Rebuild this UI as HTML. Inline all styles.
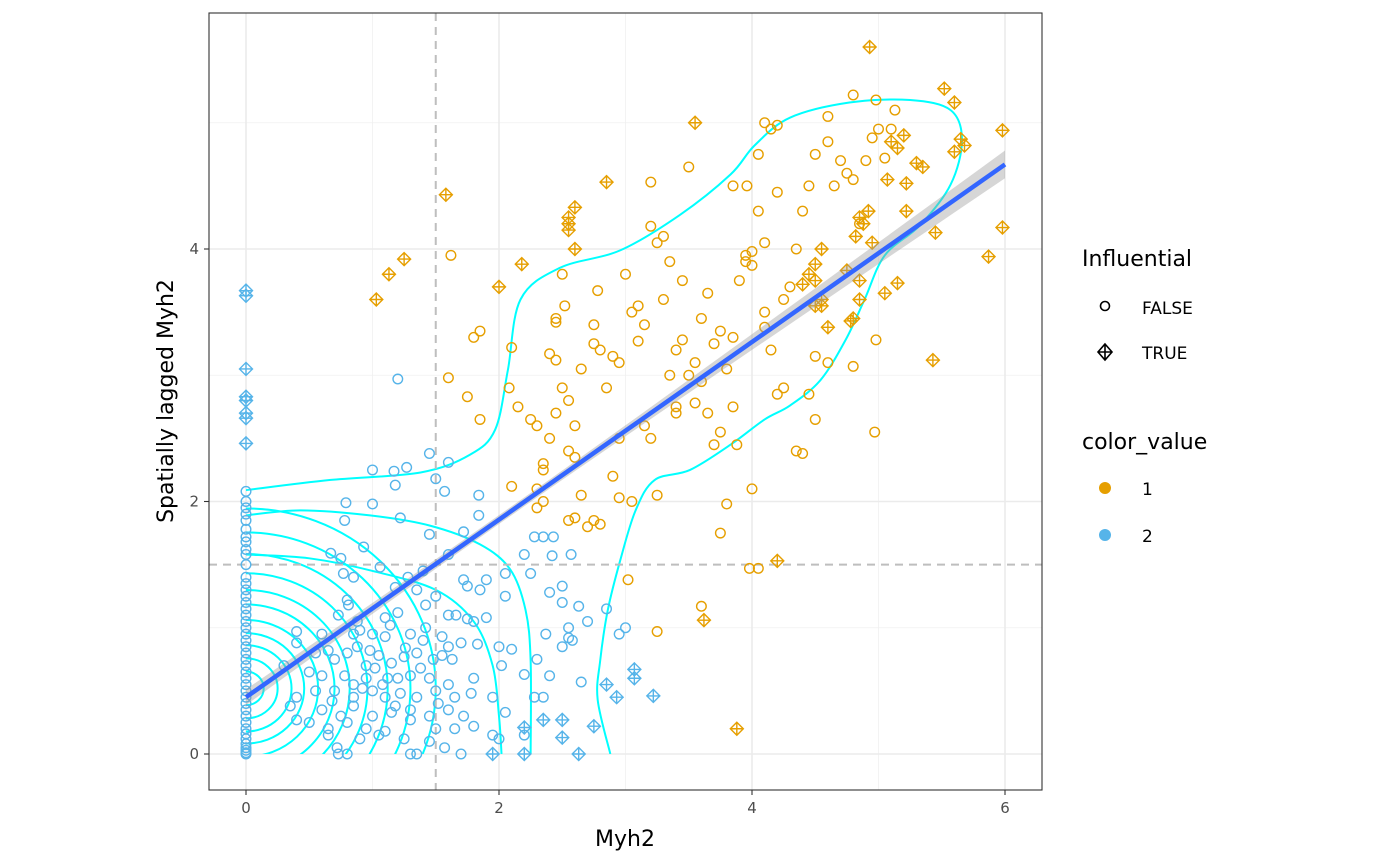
<!DOCTYPE html>
<html><head><meta charset="utf-8">
<style>
html,body{margin:0;padding:0;background:#fff;}
svg{display:block;font-family:"DejaVu Sans","Liberation Sans",sans-serif;}
</style></head>
<body>
<svg id="chart" width="1400" height="865" viewBox="0 0 1400 865" xmlns="http://www.w3.org/2000/svg">
<defs><clipPath id="panelClip"><rect x="209" y="13" width="833" height="777"/></clipPath>
<clipPath id="posClip"><rect x="246" y="13" width="796" height="741"/></clipPath></defs>
<rect x="209" y="13" width="833" height="777" fill="#fff"/>
<g id="grid"></g>
<g id="contours" clip-path="url(#posClip)"></g>
<g id="refs"></g>
<g id="points" clip-path="url(#panelClip)"></g>
<g id="fit"></g>
<rect x="209" y="13" width="833" height="777" fill="none" stroke="#333" stroke-width="1.1"/>
<g id="axes"></g>
<text x="625" y="846" font-size="22" text-anchor="middle" fill="#000">Myh2</text>
<text transform="translate(173,401) rotate(-90)" font-size="22" text-anchor="middle" fill="#000">Spatially lagged Myh2</text>
<g>
<text x="1082" y="266" font-size="22" fill="#000">Influential</text>
<circle cx="1105" cy="306" r="4.5" fill="none" stroke="#000" stroke-width="1.6"/>
<text x="1142" y="314" font-size="17" fill="#000">FALSE</text>
<g stroke="#000" stroke-width="1.6" fill="none"><path d="M1105,344 L1112,352 L1105,360 L1098,352 Z M1105,344 V360 M1098,352 H1112"/></g>
<text x="1142" y="359" font-size="17" fill="#000">TRUE</text>
<text x="1082" y="449" font-size="22" fill="#000">color_value</text>
<circle cx="1105" cy="488" r="6" fill="#E69F00"/>
<text x="1142" y="495" font-size="17" fill="#000">1</text>
<circle cx="1105" cy="535" r="6" fill="#56B4E9"/>
<text x="1142" y="542" font-size="17" fill="#000">2</text>
</g>
</svg>
<script>
const xTicks=[0,2,4,6];
const yTicks=[0,2,4];
const xMinor=[1,3,5];
const yMinor=[1,3,5];
const fitStart=[0,0.45];
const fitEnd=[6,4.67];
const vlineX=1.5;
const hlineY=1.5;
const blueZeroY=[0,0.01,0.03,0.05,0.08,0.12,0.16,0.2,0.25,0.3,0.35,0.4,0.45,0.5,0.55,0.6,0.65,0.7,0.75,0.8,0.85,0.9,0.95,1.0,1.05,1.1,1.15,1.2,1.25,1.3,1.35,1.4,1.5,1.58,1.62,1.68,1.72,1.78,1.85,1.9,1.95,2.0,2.08];
const blueZeroDiamondY=[3.67,3.63,3.05,2.83,2.8,2.7,2.66,2.46];
const blueCircles=[[1.2,2.97],[1.0,2.25],[1.17,2.24],[1.27,2.27],[1.45,2.38],[1.6,2.31],[1.18,2.13],[1.5,2.18],[1.57,2.08],[0.79,1.99],[1.0,1.98],[1.84,2.05],[0.78,1.85],[1.22,1.87],[1.84,1.89],[0.93,1.64],[1.45,1.74],[1.72,1.76],[2.28,1.72],[2.35,1.72],[2.43,1.72],[0.67,1.59],[0.75,1.55],[1.06,1.48],[1.6,1.58],[2.2,1.58],[2.42,1.57],[2.57,1.58],[0.77,1.43],[0.85,1.4],[1.28,1.4],[1.4,1.45],[1.72,1.38],[1.75,1.33],[1.9,1.38],[2.05,1.43],[2.25,1.43],[2.5,1.33],[0.8,1.22],[0.81,1.18],[1.18,1.32],[1.35,1.3],[1.5,1.25],[1.85,1.3],[2.05,1.25],[2.4,1.28],[2.5,1.2],[2.63,1.17],[2.85,1.15],[0.73,1.1],[1.1,1.08],[1.2,1.12],[1.42,1.18],[1.6,1.1],[1.66,1.1],[1.75,1.07],[1.8,1.05],[1.9,1.08],[2.55,1.0],[2.7,1.05],[3.0,1.0],[0.4,0.97],[0.6,0.95],[0.85,0.95],[0.9,0.98],[1.0,0.95],[1.1,0.93],[1.3,0.95],[1.4,0.9],[1.55,0.93],[1.6,0.85],[1.7,0.88],[1.83,0.87],[2.0,0.85],[2.1,0.83],[2.37,0.95],[2.55,0.92],[2.95,0.95],[0.3,0.7],[0.4,0.88],[0.55,0.8],[0.65,0.82],[0.7,0.75],[0.8,0.8],[0.88,0.85],[0.95,0.7],[1.05,0.78],[1.15,0.72],[1.25,0.77],[1.35,0.8],[1.48,0.75],[1.55,0.78],[1.63,0.75],[2.02,0.7],[2.3,0.75],[2.5,0.85],[2.58,0.9],[0.5,0.65],[0.6,0.62],[0.78,0.62],[0.85,0.55],[0.95,0.6],[1.08,0.55],[1.2,0.6],[1.3,0.62],[1.45,0.6],[1.6,0.55],[1.8,0.6],[2.2,0.63],[2.4,0.62],[2.65,0.57],[0.4,0.45],[0.55,0.5],[0.7,0.5],[0.85,0.45],[1.0,0.5],[1.1,0.45],[1.22,0.48],[1.35,0.45],[1.5,0.5],[1.65,0.45],[1.78,0.48],[1.95,0.45],[2.28,0.45],[2.35,0.45],[0.35,0.38],[0.6,0.35],[0.75,0.3],[0.85,0.38],[1.0,0.3],[1.15,0.33],[1.3,0.35],[1.45,0.3],[1.6,0.35],[1.72,0.3],[2.05,0.33],[0.4,0.27],[0.5,0.25],[0.65,0.2],[0.8,0.25],[0.95,0.2],[1.1,0.18],[1.3,0.27],[1.5,0.2],[1.65,0.2],[1.8,0.22],[1.95,0.15],[0.65,0.15],[0.9,0.12],[1.05,0.15],[1.25,0.12],[1.45,0.1],[1.7,0.0],[0.73,0.0],[0.8,0.0],[1.3,0.0],[1.35,0.0],[1.57,0.05],[2.0,0.12],[2.2,0.15],[0.72,0.05],[1.12,0.6],[1.02,0.68],[0.92,0.52],[1.38,0.68],[1.18,0.38],[0.68,0.42],[1.52,0.4],[1.26,0.84],[0.98,0.82],[1.42,1.0],[1.14,1.02],[0.88,1.05]];
const blueDiamonds=[[3.07,0.67],[3.07,0.6],[3.22,0.46],[2.85,0.55],[2.93,0.45],[2.2,0.21],[2.35,0.27],[2.5,0.27],[2.5,0.13],[2.75,0.22],[1.95,0.0],[2.2,0.0],[2.63,0.0]];
const orangeCircles=[[1.6,2.98],[1.75,2.83],[1.8,3.3],[1.85,3.35],[1.85,2.65],[2.1,3.22],[2.15,2.75],[2.08,2.9],[2.1,2.12],[2.25,2.65],[2.3,2.6],[2.35,2.3],[2.35,2.25],[2.3,1.95],[2.35,2.0],[2.4,3.17],[2.45,3.12],[2.45,3.42],[2.45,3.45],[2.5,3.8],[2.52,3.55],[2.5,2.9],[2.55,2.8],[2.6,2.6],[2.45,2.7],[2.55,2.4],[2.6,2.35],[2.65,2.05],[2.55,1.85],[2.6,1.87],[2.75,1.85],[2.8,1.82],[2.7,1.8],[2.65,3.05],[2.75,3.25],[2.8,3.2],[2.75,3.4],[2.78,3.67],[2.85,2.9],[2.9,3.15],[2.95,3.1],[2.9,2.2],[2.95,2.03],[3.0,3.8],[3.05,2.0],[3.1,3.55],[3.05,3.5],[3.1,3.27],[3.15,2.6],[3.2,2.5],[3.25,2.05],[3.2,4.18],[3.25,4.05],[3.3,4.1],[3.2,4.53],[3.35,3.0],[3.4,2.7],[3.4,2.75],[3.4,3.2],[3.45,3.28],[3.45,3.75],[3.5,3.0],[3.55,2.78],[3.55,3.1],[3.6,2.95],[3.5,4.65],[3.6,3.45],[3.65,3.65],[3.7,3.25],[3.65,2.7],[3.7,2.45],[3.75,2.55],[3.75,3.35],[3.8,3.05],[3.75,1.75],[3.8,1.98],[3.88,2.45],[3.85,3.3],[3.9,3.75],[3.95,3.95],[3.95,3.9],[4.0,3.87],[4.0,3.98],[3.96,4.5],[4.05,4.75],[4.05,4.3],[4.1,4.05],[4.1,3.5],[4.1,3.38],[4.15,3.2],[4.2,2.85],[4.25,2.9],[4.3,3.7],[4.35,2.4],[4.4,2.38],[4.45,2.85],[4.5,2.65],[4.4,4.3],[4.45,4.5],[4.5,4.75],[4.6,4.85],[4.65,4.5],[4.7,4.7],[4.75,4.6],[4.8,4.55],[4.8,5.22],[4.85,4.2],[4.9,4.7],[4.95,4.88],[5.0,4.95],[5.05,4.72],[4.97,2.55],[4.98,3.28],[4.8,3.07],[4.5,3.15],[4.6,3.1],[1.62,3.95],[4.15,4.95],[4.2,4.98],[4.1,5.0],[4.6,5.05],[3.98,1.47],[4.05,1.47],[3.6,1.17],[3.25,0.97],[3.02,1.38],[2.4,2.5],[2.3,2.1],[5.1,4.95],[4.35,4.0],[4.0,2.1],[3.85,4.5],[4.2,4.45],[5.13,5.1],[4.98,5.18],[3.3,3.6],[3.15,3.4],[2.95,2.5],[3.35,3.9],[4.25,3.6],[3.85,2.75]];
const orangeDiamonds=[[4.93,5.6],[5.52,5.27],[5.6,5.16],[5.65,4.87],[5.68,4.82],[5.6,4.77],[5.3,4.68],[5.35,4.65],[5.98,4.94],[5.98,4.17],[5.87,3.94],[5.45,4.13],[5.22,4.52],[5.22,4.3],[5.2,4.9],[5.1,4.85],[5.15,4.8],[5.07,4.55],[5.05,3.65],[5.15,3.73],[5.43,3.12],[4.95,4.05],[4.92,4.3],[4.88,4.2],[4.85,4.25],[4.82,4.1],[4.85,3.75],[4.85,3.6],[4.8,3.45],[4.78,3.43],[4.75,3.83],[4.6,3.38],[4.55,3.55],[4.55,3.6],[4.5,3.75],[4.5,3.88],[4.55,4.0],[4.45,3.8],[4.5,3.55],[4.4,3.72],[3.55,5.0],[2.85,4.53],[2.6,4.33],[2.55,4.25],[2.55,4.2],[2.6,4.0],[2.55,4.15],[1.58,4.43],[1.25,3.92],[1.13,3.8],[1.03,3.6],[2.0,3.7],[2.18,3.88],[3.62,1.06],[3.88,0.2],[4.2,1.53]];
const contourOuter=[[0,2.09],[0.66,2.17],[1.38,2.23],[1.77,2.37],[1.97,2.57],[2.07,3.04],[2.17,3.6],[2.48,3.85],[2.96,3.99],[3.43,4.27],[3.83,4.59],[4.02,4.82],[4.3,5.04],[4.77,5.16],[5.25,5.18],[5.57,5.1],[5.66,4.86],[5.57,4.51],[5.33,4.19],[5.05,3.95],[4.89,3.6],[4.74,3.28],[4.54,2.96],[4.3,2.76],[4.1,2.65],[3.83,2.45],[3.51,2.25],[3.23,2.17],[3.08,1.93],[2.96,1.54],[2.86,1.14],[2.8,0.74],[2.78,0.43],[2.88,0]];
const contourSecond=[[0,1.89],[0.43,1.93],[0.98,1.89],[1.45,1.81],[1.85,1.66],[2.09,1.46],[2.21,1.14],[2.25,0.74],[2.25,0]];
const contourThird=[[0,1.58],[0.5,1.55],[1.0,1.45],[1.5,1.3],[1.8,1.05],[1.95,0.7],[2.0,0.3],[2.02,0]];
const contourCenter=[0,0.52];
const contourRadii=[0.14,0.25,0.36,0.46,0.57,0.7,0.82,0.96,1.12,1.3,1.5];

const NS='http://www.w3.org/2000/svg';
function X(v){return 246+v*126.5;}
function Y(v){return 754-v*126.25;}
function mk(tag,attrs,parent){const e=document.createElementNS(NS,tag);for(const k in attrs)e.setAttribute(k,attrs[k]);parent.appendChild(e);return e;}
const grid=document.getElementById('grid');
xMinor.forEach(v=>{const l=mk('line',{x1:X(v),x2:X(v),y1:13,y2:790,stroke:'#f0f0f0','stroke-width':0.8},grid);

});
yMinor.forEach(v=>{const l=mk('line',{x1:209,x2:1042,y1:Y(v),y2:Y(v),stroke:'#f0f0f0','stroke-width':0.8},grid);

});
const axes=document.getElementById('axes');
xTicks.forEach(v=>{const l=mk('line',{x1:X(v),x2:X(v),y1:13,y2:790,stroke:'#ebebeb','stroke-width':1.6},grid);


const t=mk('line',{x1:X(v),x2:X(v),y1:790,y2:795,stroke:'#333','stroke-width':1.1},axes);


const tx=mk('text',{x:X(v),y:813,'font-size':15,'text-anchor':'middle',fill:'#4d4d4d'},axes);tx.textContent=v;

});
yTicks.forEach(v=>{const l=mk('line',{x1:209,x2:1042,y1:Y(v),y2:Y(v),stroke:'#ebebeb','stroke-width':1.6},grid);


const t=mk('line',{x1:204,x2:209,y1:Y(v),y2:Y(v),stroke:'#333','stroke-width':1.1},axes);


const tx=mk('text',{x:199,y:Y(v)+5,'font-size':15,'text-anchor':'end',fill:'#4d4d4d'},axes);tx.textContent=v;

});
// contours
const cg=document.getElementById('contours');
function smoothPath(pts){let d='M'+X(pts[0][0])+','+Y(pts[0][1]);
for(let i=1;i<pts.length;i++){const p0=pts[Math.max(0,i-2)],p1=pts[i-1],p2=pts[i],p3=pts[Math.min(pts.length-1,i+1)];
const c1x=X(p1[0])+(X(p2[0])-X(p0[0]))/6,c1y=Y(p1[1])+(Y(p2[1])-Y(p0[1]))/6;
const c2x=X(p2[0])-(X(p3[0])-X(p1[0]))/6,c2y=Y(p2[1])-(Y(p3[1])-Y(p1[1]))/6;
d+=' C'+c1x+','+c1y+' '+c2x+','+c2y+' '+X(p2[0])+','+Y(p2[1]);}return d;}
[contourOuter,contourSecond,contourThird].forEach(c=>{const p=mk('path',{d:smoothPath(c),fill:'none',stroke:'#00FFFF','stroke-width':2},cg);

});
contourRadii.forEach(r=>{const e=mk('ellipse',{cx:X(contourCenter[0]),cy:Y(contourCenter[1]),rx:r*126.5,ry:r*126.25*0.95,fill:'none',stroke:'#00FFFF','stroke-width':2},cg);

});
// reference lines
const rg=document.getElementById('refs');
const vl=mk('line',{x1:X(vlineX),x2:X(vlineX),y1:13,y2:790,stroke:'#bebebe','stroke-width':2,'stroke-dasharray':'8,6'},rg);


const hl=mk('line',{x1:209,x2:1042,y1:Y(hlineY),y2:Y(hlineY),stroke:'#bebebe','stroke-width':2,'stroke-dasharray':'8,6'},rg);


// points
const pg=document.getElementById('points');
function circ(x,y,col,name){const c=mk('circle',{cx:X(x),cy:Y(y),r:4.8,fill:'none',stroke:col,'stroke-width':1.4},pg);

}
function diam(x,y,col,name){const cx=X(x),cy=Y(y),s=6.5;
const p=mk('path',{d:`M${cx},${cy-s} L${cx+s},${cy} L${cx},${cy+s} L${cx-s},${cy} Z M${cx},${cy-s} V${cy+s} M${cx-s},${cy} H${cx+s}`,fill:'none',stroke:col,'stroke-width':1.4},pg);

}
const BLUE='#56B4E9',ORANGE='#E69F00';
blueZeroY.forEach(y=>circ(0,y,BLUE,'point-blue-false'));
blueCircles.forEach(p=>circ(p[0],p[1],BLUE,'point-blue-false'));
blueZeroDiamondY.forEach(y=>diam(0,y,BLUE,'point-blue-true'));
blueDiamonds.forEach(p=>diam(p[0],p[1],BLUE,'point-blue-true'));
orangeCircles.forEach(p=>circ(p[0],p[1],ORANGE,'point-orange-false'));
orangeDiamonds.forEach(p=>diam(p[0],p[1],ORANGE,'point-orange-true'));
// fit
const fg=document.getElementById('fit');
const slope=(fitEnd[1]-fitStart[1])/(fitEnd[0]-fitStart[0]);
function fy(x){return fitStart[1]+slope*(x-fitStart[0]);}
function se(x){return Math.sqrt(0.035*0.035+Math.pow(0.026*(x-2),2));}
let up=[],lo=[];
for(let i=0;i<=30;i++){const x=fitStart[0]+(fitEnd[0]-fitStart[0])*i/30;up.push(X(x)+','+Y(fy(x)+se(x)));lo.unshift(X(x)+','+Y(fy(x)-se(x)));}
const band=mk('polygon',{points:up.concat(lo).join(' '),fill:'#999','fill-opacity':0.4},fg);


const fl=mk('line',{x1:X(fitStart[0]),y1:Y(fitStart[1]),x2:X(fitEnd[0]),y2:Y(fitEnd[1]),stroke:'#3366FF','stroke-width':4.5},fg);


</script>
</body></html>
